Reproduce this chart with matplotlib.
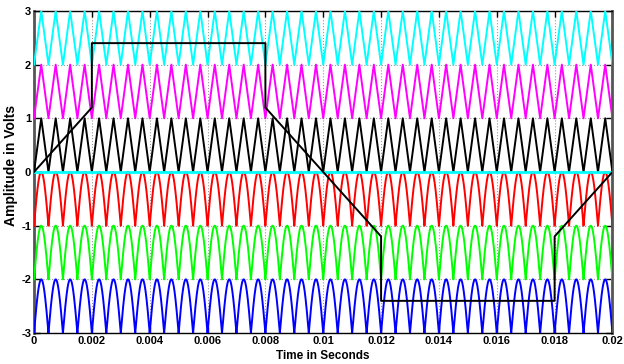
import matplotlib.pyplot as plt
import numpy as np

# carrier bands (lower, upper) and their colours, top to bottom
band_lows = [2, 1, 0, -1, -2, -3]
band_colors = ['cyan', 'magenta', 'black', 'red', 'lime', 'blue']
band_shapes = ['tri', 'tri', 'tri', 'arch', 'arch', 'arch']
carrier_freq = 2000.0   # Hz (40 periods in 20 ms)
t_end = 0.02

# reference (modulating) waveform corner points
ref_t = [0, 0.002, 0.002, 0.008, 0.008, 0.012, 0.012, 0.018, 0.018, 0.02]
ref_v = [0, 1.2, 2.4, 2.4, 1.2, -1.2, -2.4, -2.4, -1.2, 0]

xticks = [0, 0.002, 0.004, 0.006, 0.008, 0.01, 0.012, 0.014, 0.016, 0.018, 0.02]
xticklabels = ['0', '0.002', '0.004', '0.006', '0.008', '0.01', '0.012', '0.014', '0.016', '0.018', '0.02']
yticks = [-3, -2, -1, 0, 1, 2, 3]

plt.rcParams['font.family'] = ['Liberation Sans', 'DejaVu Sans']
plt.rcParams['font.weight'] = 'bold'
plt.rcParams['axes.unicode_minus'] = False

fig = plt.figure(figsize=(6.24, 3.64), dpi=100)
ax = fig.add_axes([0.0545, 0.085, 0.927, 0.885])

t = np.linspace(0, t_end, 8001)
for low, col, shape in zip(band_lows, band_colors, band_shapes):
    if shape == 'tri':
        # triangle, minimum at t=0
        phase = (t * carrier_freq) % 1.0
        y = low + 1 - np.abs(2 * phase - 1)
    else:
        # rectified sine arches, cusps at the bottom
        y = low + np.abs(np.sin(np.pi * carrier_freq * t))
    ax.plot(t, y, color=col, lw=1.4, zorder=3)

ax.axhline(0, color='cyan', lw=2, zorder=4)
ax.plot(ref_t, ref_v, color='black', lw=1.4, zorder=5)

ax.set_xlim(0, t_end)
ax.set_ylim(-3, 3)
ax.set_xticks(xticks)
ax.set_xticklabels(xticklabels)
ax.set_yticks(yticks)
ax.grid(True, color='#999999', linestyle=':', lw=0.8, zorder=0)
ax.tick_params(direction='in', top=True, right=True, labelsize=8, length=4, width=1, pad=2)
for lab in ax.get_xticklabels() + ax.get_yticklabels():
    lab.set_fontweight('bold')
for side in ['left', 'right']:
    ax.spines[side].set_color('#555555')
    ax.spines[side].set_linewidth(2)
for side in ['top', 'bottom']:
    ax.spines[side].set_color('black')
    ax.spines[side].set_linewidth(1)

ax.set_xlabel('Time in Seconds', fontsize=8.5, fontweight='bold', labelpad=3)
ax.set_ylabel('Amplitude in Volts', fontsize=10, fontweight='bold')
ax.yaxis.set_label_coords(-0.027, 0.52)

fig.savefig('out.png', dpi=100)
